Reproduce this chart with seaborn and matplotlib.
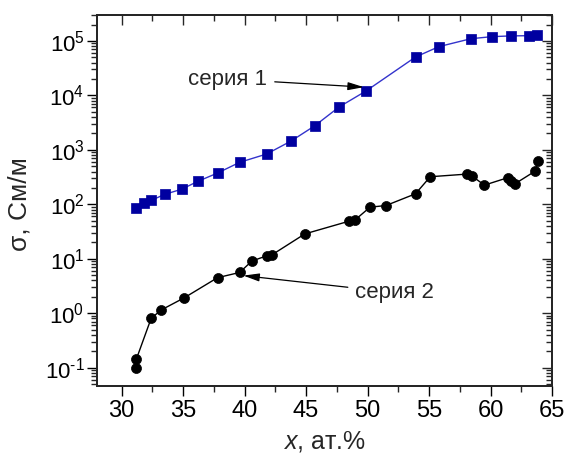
import math
import matplotlib
matplotlib.use("Agg")
import matplotlib.pyplot as plt
import seaborn as sns
import pandas as pd
from matplotlib.ticker import FixedLocator, FuncFormatter, LogLocator, NullFormatter, MultipleLocator

# ---- data ----
s1_x = [31.2, 31.8, 32.4, 33.5, 34.9, 36.2, 37.8, 39.6, 41.8, 43.8, 45.7, 47.7,
        49.9, 53.9, 55.8, 58.4, 60.1, 61.7, 63.1, 63.8]
s1_y = [86, 104, 118, 152, 190, 264, 375, 590, 840, 1460, 2760, 6160,
        12150, 50700, 78700, 110000, 120000, 124000, 125000, 127000]

s2_x = [31.2, 31.2, 32.4, 33.2, 35.1, 37.8, 39.6, 40.6, 41.8, 42.2, 44.9, 48.5,
        49.0, 50.2, 51.5, 53.9, 55.1, 58.1, 58.5, 59.5, 61.4, 61.7, 62.0, 63.6, 63.9]
s2_y = [0.097, 0.143, 0.80, 1.14, 1.92, 4.49, 5.6, 9.1, 11.3, 11.7, 28.6, 49,
        52, 88.5, 95, 156, 321, 359, 330, 225, 308, 272, 239, 403, 624]

series_names = ["серия 1", "серия 2"]
x_ticks = [30, 35, 40, 45, 50, 55, 60, 65]
y_ticks = [1e-1, 1e0, 1e1, 1e2, 1e3, 1e4, 1e5]
x_label = "x, ат.%"
y_label = "σ, См/м"

df1 = pd.DataFrame({"x": s1_x, "y": s1_y})
df2 = pd.DataFrame({"x": s2_x, "y": s2_y})

sns.set_style("white")
plt.rcParams["font.family"] = ["Liberation Sans", "DejaVu Sans"]
plt.rcParams["mathtext.fontset"] = "custom"
plt.rcParams["mathtext.rm"] = "Liberation Sans"
plt.rcParams["mathtext.it"] = "Liberation Sans:italic"

fig = plt.figure(figsize=(5.66, 4.59), dpi=100)
ax = fig.add_axes([97 / 566, 1 - 386 / 459, (552 - 97) / 566, (386 - 15) / 459])

blue_fill = "#0000A0"
blue_line = "#3333CC"

sns.lineplot(data=df1, x="x", y="y", ax=ax, sort=False, estimator=None,
             color=blue_line, lw=1.0, zorder=2)
sns.scatterplot(data=df1, x="x", y="y", ax=ax, marker="s", s=42,
                color=blue_fill, edgecolor=blue_fill, linewidth=0.5, zorder=3)
sns.lineplot(data=df2, x="x", y="y", ax=ax, sort=False, estimator=None,
             color="black", lw=1.0, zorder=2)
sns.scatterplot(data=df2, x="x", y="y", ax=ax, marker="o", s=52,
                color="black", edgecolor="black", linewidth=0.5, zorder=3)

ax.set_yscale("log")
ax.set_xlim(28, 65)
ax.set_ylim(0.046, 3.0e5)


def log_fmt(v, p):
    e = round(math.log10(v))
    if e < 0:
        return r"$\mathregular{10^{\text{-}%d}}$" % (-e)
    return r"$\mathregular{10^{%d}}$" % e


ax.xaxis.set_major_locator(FixedLocator(x_ticks))
ax.xaxis.set_minor_locator(MultipleLocator(2.5))
ax.yaxis.set_major_locator(FixedLocator(y_ticks))
ax.yaxis.set_minor_locator(LogLocator(base=10, subs=range(2, 10), numticks=20))
ax.yaxis.set_minor_formatter(NullFormatter())
ax.yaxis.set_major_formatter(FuncFormatter(log_fmt))

ax.tick_params(axis="both", which="major", direction="out", length=7, width=1,
               labelsize=17, colors="black", pad=3)
ax.tick_params(axis="both", which="minor", direction="out", length=4, width=1)
ax.tick_params(axis="y", which="major", labelsize=16, pad=2)

for sp in ax.spines.values():
    sp.set_linewidth(1.2)
    sp.set_color("black")

# mirrored axes (top & right) with inward ticks
axr = ax.twinx()
axr.set_yscale("log")
axr.set_ylim(ax.get_ylim())
axr.yaxis.set_major_locator(FixedLocator(y_ticks))
axr.yaxis.set_minor_locator(LogLocator(base=10, subs=range(2, 10), numticks=20))
axr.tick_params(axis="y", which="major", direction="in", length=7, width=1, labelright=False)
axr.tick_params(axis="y", which="minor", direction="in", length=4, width=1, labelright=False)
axt = ax.twiny()
axt.set_xlim(ax.get_xlim())
axt.xaxis.set_major_locator(FixedLocator(x_ticks))
axt.xaxis.set_minor_locator(MultipleLocator(2.5))
axt.tick_params(axis="x", which="major", direction="in", length=7, width=1, labeltop=False)
axt.tick_params(axis="x", which="minor", direction="in", length=4, width=1, labeltop=False)
for a in (axr, axt):
    a.grid(False)
    for sp in a.spines.values():
        sp.set_linewidth(1.2)

ax.set_xlabel(r"$\mathit{x}$, ат.%", fontsize=18, labelpad=5)
ax.set_ylabel(y_label, fontsize=19)
ax.yaxis.set_label_coords(-0.145, 0.49)

arrow = dict(arrowstyle="-|>,head_length=0.6,head_width=0.15", color="black",
             lw=0.9, shrinkA=3, shrinkB=0)
ax.annotate(series_names[0], xy=(49.7, 14200), xytext=(41.85, 20000),
            ha="right", va="center", fontsize=16, arrowprops=arrow, zorder=5)
ax.annotate(series_names[1], xy=(39.9, 4.9), xytext=(49.0, 2.4),
            ha="left", va="center", fontsize=16, arrowprops=arrow, zorder=5)

fig.savefig("out.png", dpi=100)
